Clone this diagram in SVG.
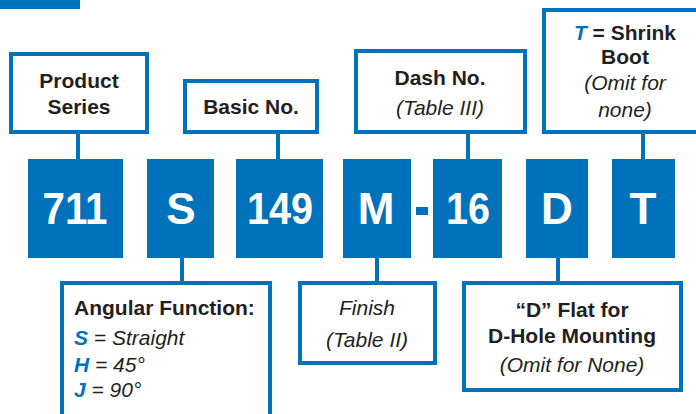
<svg xmlns="http://www.w3.org/2000/svg" width="696" height="414" viewBox="0 0 696 414">
<style>
.frame{fill:#fff;stroke:#0072BC;stroke-width:4}
.blk{fill:#0072BC}
.big{font-family:"Liberation Sans",Arial,sans-serif;font-weight:bold;font-size:44px;fill:#fff;text-anchor:middle}
.b{font-family:"Liberation Sans",Arial,sans-serif;font-weight:bold;font-size:21px;fill:#231F20}
.i{font-family:"Liberation Sans",Arial,sans-serif;font-style:italic;font-size:21px;fill:#231F20}
.c{text-anchor:middle}
.bl{fill:#0072BC;font-weight:bold;font-style:italic}
.ln{stroke:#0072BC;stroke-width:4;fill:none}
</style>
<rect x="0" y="0" width="80" height="9" class="blk"/>
<g id="connectors">
<line class="ln" x1="78" y1="132" x2="78" y2="160"/>
<line class="ln" x1="278" y1="132" x2="278" y2="160"/>
<line class="ln" x1="468" y1="132" x2="468" y2="160"/>
<line class="ln" x1="643" y1="132" x2="643" y2="160"/>
<line class="ln" x1="182" y1="256" x2="182" y2="283"/>
<line class="ln" x1="377" y1="256" x2="377" y2="283"/>
<line class="ln" x1="558" y1="256" x2="558" y2="283"/>
</g>
<g id="product-series">
<rect class="frame" x="11" y="54" width="136" height="78"/>
<text class="b c" x="79" y="88">Product</text>
<text class="b c" x="79" y="114">Series</text>
</g>
<g id="basic-no">
<rect class="frame" x="185" y="81" width="132" height="51"/>
<text class="b c" x="251" y="114">Basic No.</text>
</g>
<g id="dash-no">
<rect class="frame" x="356" y="51" width="169" height="81"/>
<text class="b c" x="440" y="85">Dash No.</text>
<text class="i c" x="440" y="115">(Table III)</text>
</g>
<g id="shrink-boot">
<rect class="frame" x="544" y="10" width="164" height="122"/>
<text class="b c" x="625" y="40"><tspan class="bl">T</tspan> = Shrink</text>
<text class="b c" x="625" y="64">Boot</text>
<text class="i c" x="625" y="90">(Omit for</text>
<text class="i c" x="625" y="117">none)</text>
</g>
<g id="code-711"><rect class="blk" x="28" y="159" width="95" height="99"/><text class="big" x="75" y="224" textLength="65" lengthAdjust="spacingAndGlyphs">711</text></g>
<g id="code-S"><rect class="blk" x="147" y="159" width="67" height="99"/><text class="big" x="181" y="224">S</text></g>
<g id="code-149"><rect class="blk" x="236" y="159" width="87" height="99"/><text class="big" x="280" y="224" textLength="66" lengthAdjust="spacingAndGlyphs">149</text></g>
<g id="code-M"><rect class="blk" x="343" y="159" width="68" height="99"/><text class="big" x="376" y="224">M</text></g>
<g id="dash"><rect class="blk" x="416" y="207" width="12" height="8"/></g>
<g id="code-16"><rect class="blk" x="433" y="159" width="69" height="99"/><text class="big" x="468" y="224" textLength="44" lengthAdjust="spacingAndGlyphs">16</text></g>
<g id="code-D"><rect class="blk" x="526" y="159" width="62" height="99"/><text class="big" x="557" y="224">D</text></g>
<g id="code-T"><rect class="blk" x="612" y="159" width="63" height="99"/><text class="big" x="643" y="224">T</text></g>
<g id="angular-function">
<rect class="frame" x="62" y="283" width="208" height="150"/>
<text class="b" x="74" y="315">Angular Function:</text>
<text class="i" x="74" y="345"><tspan class="bl">S</tspan> = Straight</text>
<text class="i" x="74" y="372"><tspan class="bl">H</tspan> = 45°</text>
<text class="i" x="74" y="397"><tspan class="bl">J</tspan> = 90°</text>
</g>
<g id="finish">
<rect class="frame" x="300" y="283" width="135" height="80"/>
<text class="i c" x="367" y="315">Finish</text>
<text class="i c" x="367" y="347">(Table II)</text>
</g>
<g id="d-flat">
<rect class="frame" x="464" y="283" width="217" height="107"/>
<text class="b c" x="572" y="317">“D” Flat for</text>
<text class="b c" x="572" y="343">D-Hole Mounting</text>
<text class="i c" x="572" y="372">(Omit for None)</text>
</g>
</svg>
